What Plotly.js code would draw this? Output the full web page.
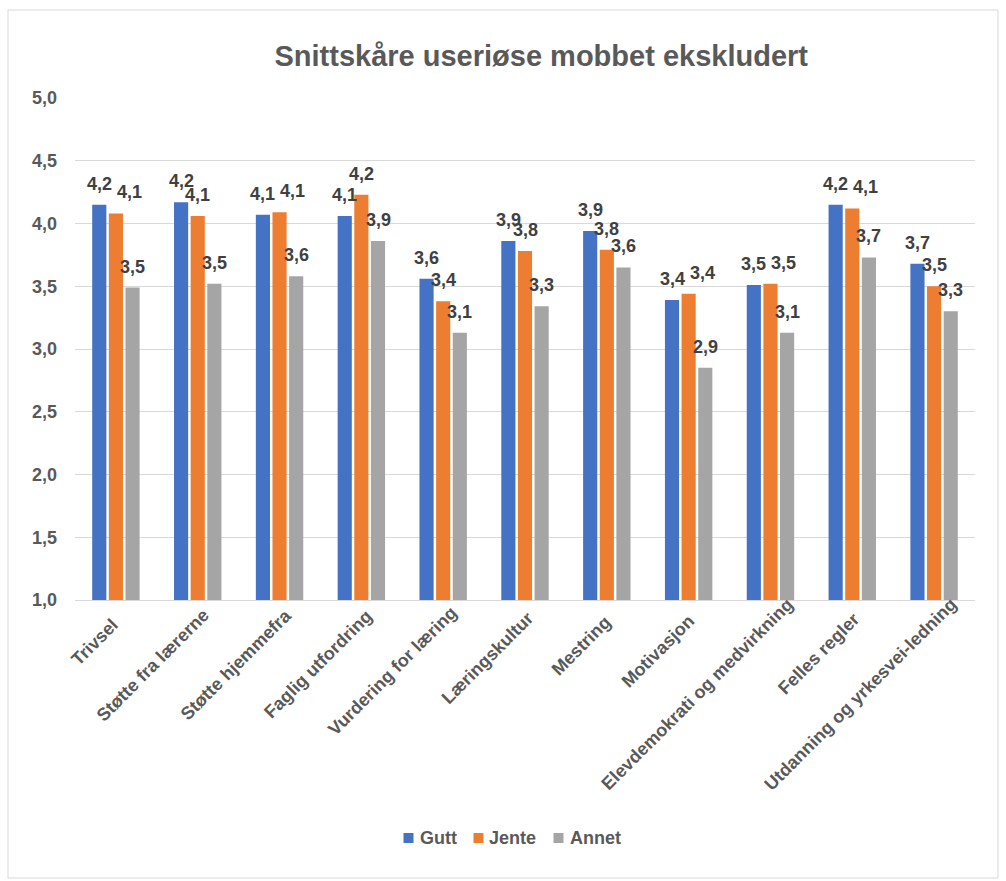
<!DOCTYPE html>
<html>
<head>
<meta charset="utf-8">
<script src="https://cdn.plot.ly/plotly-3.0.1.min.js"></script>
<style>html,body{margin:0;padding:0;background:#fff;}#chart{width:1006px;height:881px;}</style>
</head>
<body>
<div id="chart"></div>
<script>
const categories = ["Trivsel","Støtte fra lærerne","Støtte hjemmefra","Faglig utfordring","Vurdering for læring","Læringskultur","Mestring","Motivasjon","Elevdemokrati og medvirkning","Felles regler","Utdanning og yrkesvei-ledning"];
const gutt  = [4.15, 4.17, 4.07, 4.06, 3.56, 3.86, 3.94, 3.39, 3.51, 4.15, 3.68];
const jente = [4.08, 4.06, 4.09, 4.23, 3.38, 3.78, 3.79, 3.44, 3.52, 4.12, 3.50];
const annet = [3.49, 3.52, 3.58, 3.86, 3.13, 3.34, 3.65, 2.85, 3.13, 3.73, 3.30];
const seriesNames = ["Gutt","Jente","Annet"];
const seriesColors = ["#4472C4","#ED7D31","#A5A5A5"];
const yTicks = [1.0,1.5,2.0,2.5,3.0,3.5,4.0,4.5,5.0];

const FONT = "Liberation Sans, Arial, sans-serif";
const W = 1006, H = 881;
const M = {l: 75, r: 31, t: 98, b: 281};
const Y0 = 1, Y1 = 5;
const BARGAP = 0.39, GROUPGAP = 0.15;
const allSeries = [gutt, jente, annet];

const plotW = W - M.l - M.r, plotH = H - M.t - M.b;
const catW = plotW / categories.length;
const pxPerUnit = plotH / (Y1 - Y0);
const px2paperX = p => (p - M.l) / plotW;
const px2paperY = p => (M.t + plotH - p) / plotH;

const traces = allSeries.map((vals, i) => ({
  type: "bar",
  name: seriesNames[i],
  x: categories,
  y: vals,
  marker: {color: seriesColors[i]},
  hoverinfo: "skip",
  showlegend: false
}));

const annotations = [];
const shapes = [];
const fmt = v => v.toFixed(1).replace(".", ",");
const ctx = document.createElement("canvas").getContext("2d");

// ---- data labels above bars, nudged right when they would collide with the neighbour's label
const slot = (1 - BARGAP) / allSeries.length;
const LABEL_W = 30, LABEL_MIN_DY = 9.5;
categories.forEach((c, i) => {
  let prev = null;
  allSeries.forEach((vals, s) => {
    const off = (s - (allSeries.length - 1) / 2) * slot;
    const v = vals[i];
    let cx = off * catW, cy = v * pxPerUnit;
    let xshift = 0;
    if (prev && Math.abs(cy - prev.cy) < LABEL_MIN_DY && cx - prev.cx < LABEL_W) {
      xshift = prev.cx + LABEL_W - cx;
      cx = prev.cx + LABEL_W;
    }
    prev = {cx, cy};
    annotations.push({
      x: i + off, y: v, xref: "x", yref: "y",
      text: "<b>" + fmt(v) + "</b>",
      showarrow: false, xanchor: "center", yanchor: "bottom", yshift: 9, xshift: xshift,
      font: {family: FONT, size: 18, color: "#404040"}
    });
  });
});

// ---- rotated category labels
const XFS = 18;
ctx.font = "bold " + XFS + "px 'Liberation Sans', Arial, sans-serif";
const cs = Math.SQRT1_2;
categories.forEach((c, i) => {
  const L = ctx.measureText(c).width;
  const dx = 1 + 0.1 * L;
  const px = dx - 11, py = 25 - dx;
  const bx = px + 11 * cs, by = py + 11 * cs;
  const cxp = bx - (L / 2) * cs - 6.3 * cs;
  const cyp = by + (L / 2) * cs - 6.3 * cs;
  annotations.push({
    x: i, y: Y0, xref: "x", yref: "y",
    text: "<b>" + c + "</b>", textangle: -45,
    showarrow: false, xanchor: "center", yanchor: "middle",
    xshift: cxp, yshift: -cyp, borderpad: 0,
    font: {family: FONT, size: XFS, color: "#595959"}
  });
});

// ---- compact legend (square, name) centred under the plot
const LFS = 18, SQ = 10, SQ_GAP = 6, ITEM_GAP = 17, LEG_CX = 512, LEG_Y = 838;
ctx.font = "bold " + LFS + "px 'Liberation Sans', Arial, sans-serif";
const widths = seriesNames.map(n => ctx.measureText(n).width);
const total = widths.reduce((a, w) => a + SQ + SQ_GAP + w, 0) + ITEM_GAP * (seriesNames.length - 1);
let lx = LEG_CX - total / 2;
seriesNames.forEach((n, i) => {
  shapes.push({type: "rect", xref: "paper", yref: "paper",
    x0: px2paperX(lx), x1: px2paperX(lx + SQ), y0: px2paperY(LEG_Y + SQ / 2), y1: px2paperY(LEG_Y - SQ / 2),
    line: {width: 0}, fillcolor: seriesColors[i]});
  annotations.push({x: px2paperX(lx + SQ + SQ_GAP - 1), y: px2paperY(LEG_Y), xref: "paper", yref: "paper",
    text: "<b>" + n + "</b>", showarrow: false, xanchor: "left", yanchor: "middle", borderpad: 0,
    font: {family: FONT, size: LFS, color: "#595959"}});
  lx += SQ + SQ_GAP + widths[i] + ITEM_GAP;
});

shapes.push({type: "rect", xref: "paper", yref: "paper", x0: px2paperX(8), x1: px2paperX(998), y0: px2paperY(878), y1: px2paperY(10),
  line: {color: "#d9d9d9", width: 1}, fillcolor: "rgba(0,0,0,0)", layer: "below"});

const layout = {
  width: W, height: H,
  margin: M,
  paper_bgcolor: "#fff", plot_bgcolor: "#fff",
  separators: ",.",
  title: {text: "<b>Snittskåre useriøse mobbet ekskludert</b>", x: 0.538, xanchor: "center", y: 0.937, yanchor: "middle",
          font: {family: FONT, size: 29, color: "#595959"}},
  bargap: BARGAP, bargroupgap: GROUPGAP, barmode: "group",
  xaxis: {type: "category", range: [-0.5, categories.length - 0.5], autorange: false,
          showgrid: false, showline: true, linecolor: "#d9d9d9", linewidth: 1,
          ticks: "", showticklabels: false, automargin: false},
  yaxis: {range: [Y0, Y1], autorange: false, tickvals: yTicks, tickformat: ".1f", showgrid: true, gridcolor: "#d9d9d9", gridwidth: 1,
          zeroline: false, showline: false, ticks: "", ticklabelstandoff: 17,
          tickfont: {family: FONT, size: 18, color: "#595959", weight: "bold"}, automargin: false},
  annotations: annotations,
  shapes: shapes,
  showlegend: false
};

Plotly.newPlot("chart", traces, layout, {displayModeBar: false, staticPlot: true});
</script>
</body>
</html>
